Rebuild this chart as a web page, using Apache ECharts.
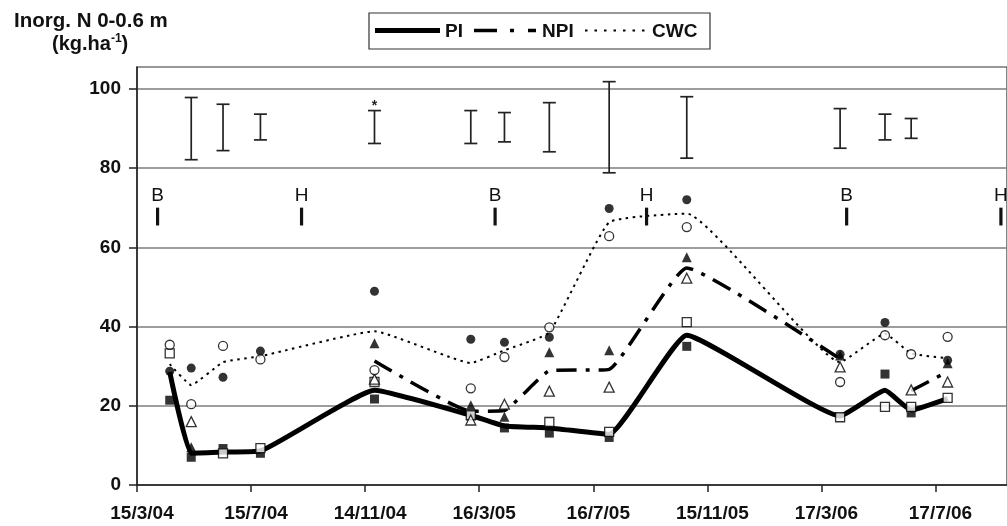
<!DOCTYPE html>
<html>
<head>
<meta charset="utf-8">
<script src="https://cdn.jsdelivr.net/npm/echarts@6/dist/echarts.min.js"></script>
<style>
  html, body { margin: 0; padding: 0; background: #fff; }
  #chart { width: 1007px; height: 526px; }
</style>
</head>
<body>
<div id="chart"></div>
<script>
// ---- data ----
const axisStart = '2004-03-15';
const xTickLabels = ['15/3/04', '15/7/04', '14/11/04', '16/3/05', '16/7/05', '15/11/05', '17/3/06', '17/7/06'];
const yTickValues = [0, 20, 40, 60, 80, 100];
const seriesNames = ['PI', 'NPI', 'CWC'];

const sampleDates = ['2004-04-19', '2004-05-12', '2004-06-15', '2004-07-25', '2004-11-24', '2005-03-07', '2005-04-12',
                     '2005-05-30', '2005-08-02', '2005-10-24', '2006-04-06', '2006-05-24', '2006-06-21', '2006-07-30'];

// treatment means (kg/ha)
const piMean  = [28.5, 8.0, 8.3, 8.6, 23.9, 17.6, 14.9, 14.4, 12.8, 37.8, 17.4, 23.9, 18.9, 21.8];
const npiMean = [null, null, null, null, 31.3, 18.6, 18.8, 28.8, 29.2, 54.8, 31.8, null, 23.8, 28.6];
const cwcMean = [30.5, 25.2, 31.0, 32.5, 38.8, 30.8, 34.0, 38.5, 66.3, 68.5, 31.0, 38.2, 33.2, 32.0];

// individual plots
const squareFilled   = [21.4, 7.0, 9.2, 8.0, 21.7, 17.5, 14.4, 13.1, 12.0, 35.0, null, 28.0, 18.2, null];
const squareOpen     = [33.2, null, 8.0, 9.3, 26.0, 17.6, null, 15.9, 13.4, 41.1, 17.1, 19.7, 19.7, 22.0];
const triangleFilled = [null, 9.5, null, null, 35.8, 20.1, 17.2, 33.5, 34.0, 57.5, 32.7, null, null, 30.7];
const triangleOpen   = [null, 16.0, null, null, 26.7, 16.4, 20.4, 23.7, 24.7, 52.2, 29.8, null, 24.0, 26.0];
const circleFilled   = [28.7, 29.5, 27.2, 33.8, 48.9, 36.8, 36.0, 37.3, 69.8, 72.0, 33.0, 41.0, null, 31.5];
const circleOpen     = [35.4, 20.4, 35.1, 31.7, 29.0, 24.4, 32.3, 39.8, 62.8, 65.1, 26.0, 37.8, 33.0, 37.4];

// LSD bars for sampling dates 2..13
const lsdDates = sampleDates.slice(1, 13);
const lsdLow   = [82.1, 84.4, 87.1, 86.2, 86.2, 86.6, 84.1, 78.8, 82.5, 85.0, 87.1, 87.5];
const lsdHigh  = [97.8, 96.1, 93.6, 94.5, 94.5, 94.0, 96.5, 101.8, 98.0, 95.0, 93.6, 92.5];
const lsdNotes = ['', '', '', '*', '', '', '', '', '', '', '', ''];

// crop events: B = budburst, H = harvest
const eventDates  = ['2004-04-06', '2004-09-07', '2005-04-02', '2005-09-11', '2006-04-13', '2006-09-25'];
const eventLabels = ['B', 'H', 'B', 'H', 'B', 'H'];

// ---- helpers ----
const DAY = 86400000;
function toUTC(s) { const p = s.split('-').map(Number); return Date.UTC(p[0], p[1] - 1, p[2]); }
function dayOf(s) { return Math.round((toUTC(s) - toUTC(axisStart)) / DAY); }
function pairs(values) {
  const out = [];
  values.forEach((v, i) => { if (v != null) out.push([dayOf(sampleDates[i]), v]); });
  return out;
}
function linePairs(values) {
  return values.map((v, i) => [dayOf(sampleDates[i]), v == null ? '-' : v]);
}

const FONT = "'Liberation Sans', Arial, Helvetica, sans-serif";
const TICK_STEP = 122;
const X_MAX = 930.5;
const SMOOTH = 0.12;

// line styles shared by the plotted means and the key
const lineStyles = {
  PI:  { width: 5, dash: null },
  NPI: { width: 3.5, dash: [20, 9, 4, 9] },
  CWC: { width: 2, dash: [2.5, 4.5] }
};

const chart = echarts.init(document.getElementById('chart'), null, { renderer: 'canvas' });

function markerSeries(name, values, symbol, size, filled, z) {
  return {
    name: name, type: 'scatter', data: pairs(values), symbol: symbol, symbolSize: size, z: z,
    itemStyle: filled ? { color: '#000' } : { color: '#fff', borderColor: '#000', borderWidth: 1.3 },
    silent: true
  };
}

function meanSeries(name, values) {
  const ls = lineStyles[name];
  return {
    name: name, type: 'line', data: linePairs(values), smooth: SMOOTH, symbol: 'none', z: 2,
    connectNulls: false, silent: true,
    lineStyle: { color: '#000', width: ls.width, type: ls.dash || 'solid' }
  };
}

function lsdItem(params, api) {
  const x = api.value(0);
  const pLo = api.coord([x, api.value(1)]);
  const pHi = api.coord([x, api.value(2)]);
  const cap = 6.5;
  const st = { stroke: '#222', lineWidth: 1.7 };
  const children = [
    { type: 'line', shape: { x1: pHi[0], y1: pHi[1], x2: pLo[0], y2: pLo[1] }, style: st },
    { type: 'line', shape: { x1: pHi[0] - cap, y1: pHi[1], x2: pHi[0] + cap, y2: pHi[1] }, style: st },
    { type: 'line', shape: { x1: pLo[0] - cap, y1: pLo[1], x2: pLo[0] + cap, y2: pLo[1] }, style: st }
  ];
  const note = lsdNotes[params.dataIndex];
  if (note) {
    children.push({ type: 'text', x: pHi[0], y: pHi[1] + 3,
      style: { text: note, align: 'center', verticalAlign: 'bottom', font: 'bold 14px ' + FONT, fill: '#222' } });
  }
  return { type: 'group', children: children };
}

function eventItem(params, api) {
  const x = api.value(0);
  const pTxt = api.coord([x, 73]);
  const pTop = api.coord([x, 70]);
  const pBot = api.coord([x, 65.5]);
  return {
    type: 'group',
    children: [
      { type: 'rect', shape: { x: pTop[0] - 1.6, y: pTop[1], width: 3.2, height: pBot[1] - pTop[1] }, style: { fill: '#111' } },
      { type: 'text', x: pTxt[0], y: pTxt[1],
        style: { text: eventLabels[params.dataIndex], align: 'center', verticalAlign: 'middle', font: '19px ' + FONT, fill: '#111' } }
    ]
  };
}

// key box: sample line followed by the series name
function keyGraphics() {
  const box = { x: 369, y: 13, w: 341, h: 36 };
  const items = [
    { name: seriesNames[0], x1: 375, x2: 440, tx: 445, dash: [] },
    { name: seriesNames[1], x1: 474, x2: 536, tx: 542, dash: [23, 13, 4, 14] },
    { name: seriesNames[2], x1: 585, x2: 646, tx: 652, dash: [2.5, 7] }
  ];
  const cy = box.y + box.h / 2 - 0.5;
  const els = [{ type: 'rect', shape: { x: box.x, y: box.y, width: box.w, height: box.h },
                 style: { fill: '#fff', stroke: '#333', lineWidth: 1.2 }, silent: true }];
  items.forEach(it => {
    els.push({ type: 'line', silent: true, shape: { x1: it.x1, y1: cy, x2: it.x2, y2: cy },
               style: { stroke: '#000', lineWidth: lineStyles[it.name].width, lineDash: it.dash } });
    els.push({ type: 'text', silent: true, x: it.tx, y: cy + 1,
               style: { text: it.name, font: 'bold 19px ' + FONT, fill: '#111', align: 'left', verticalAlign: 'middle' } });
  });
  return els;
}

const option = {
  animation: false,
  backgroundColor: '#fff',
  grid: { left: 137, top: 67, right: -3, bottom: 41, show: true, borderColor: '#333', borderWidth: 1.2, backgroundColor: 'transparent' },
  graphic: [
    { type: 'text', left: 14, top: 11, silent: true,
      style: { text: 'Inorg. N 0-0.6 m', font: 'bold 20.5px ' + FONT, fill: '#111' } },
    { type: 'text', left: 52, top: 33, silent: true,
      style: {
        text: '{b|(kg.ha}{s|-1}{b|)}',
        rich: {
          b: { fontFamily: FONT, fontSize: 20, fontWeight: 'bold', lineHeight: 23, fill: '#111', color: '#111' },
          s: { fontFamily: FONT, fontSize: 12, fontWeight: 'bold', lineHeight: 12, verticalAlign: 'top', fill: '#111', color: '#111' }
        }
      } }
  ].concat(keyGraphics()),
  xAxis: {
    type: 'value', min: 0, max: X_MAX, interval: TICK_STEP,
    axisLine: { show: true, onZero: false, lineStyle: { color: '#222', width: 1.5 } },
    axisTick: { show: true, inside: false, length: 7, lineStyle: { color: '#222', width: 1.5 },
                customValues: xTickLabels.map((_, i) => i * TICK_STEP) },
    splitLine: { show: false },
    axisLabel: {
      customValues: xTickLabels.map((_, i) => i * TICK_STEP),
      margin: 19, padding: [0, 0, 0, 10],
      fontFamily: FONT, fontSize: 19, fontWeight: 'bold', color: '#111',
      formatter: v => (v % TICK_STEP === 0 && xTickLabels[v / TICK_STEP] !== undefined) ? xTickLabels[v / TICK_STEP] : ''
    }
  },
  yAxis: {
    type: 'value', min: 0, max: 105.5, interval: 20,
    axisLine: { show: true, lineStyle: { color: '#222', width: 1.5 } },
    axisTick: { show: true, inside: false, length: 8, lineStyle: { color: '#222', width: 1.5 }, customValues: yTickValues },
    splitLine: { show: true, lineStyle: { color: '#7d7d7d', width: 1.5 } },
    axisLabel: {
      customValues: yTickValues,
      margin: 16, fontFamily: FONT, fontSize: 19, fontWeight: 'bold', color: '#111',
      formatter: v => (yTickValues.indexOf(v) >= 0 ? String(v) : '')
    }
  },
  series: [
    meanSeries('PI', piMean),
    meanSeries('NPI', npiMean),
    meanSeries('CWC', cwcMean),

    markerSeries('squareFilled', squareFilled, 'rect', 9, true, 3),
    markerSeries('triangleFilled', triangleFilled, 'triangle', 10, true, 3),
    markerSeries('circleFilled', circleFilled, 'circle', 9, true, 3),
    markerSeries('squareOpen', squareOpen, 'rect', 9, false, 4),
    markerSeries('triangleOpen', triangleOpen, 'triangle', 10, false, 4),
    markerSeries('circleOpen', circleOpen, 'circle', 9, false, 4),

    { name: 'lsd', type: 'custom', renderItem: lsdItem, silent: true, z: 5,
      data: lsdDates.map((d, i) => [dayOf(d), lsdLow[i], lsdHigh[i]]) },
    { name: 'events', type: 'custom', renderItem: eventItem, silent: true, z: 5, clip: false,
      data: eventDates.map(d => [dayOf(d)]) }
  ]
};

chart.setOption(option);
</script>
</body>
</html>
